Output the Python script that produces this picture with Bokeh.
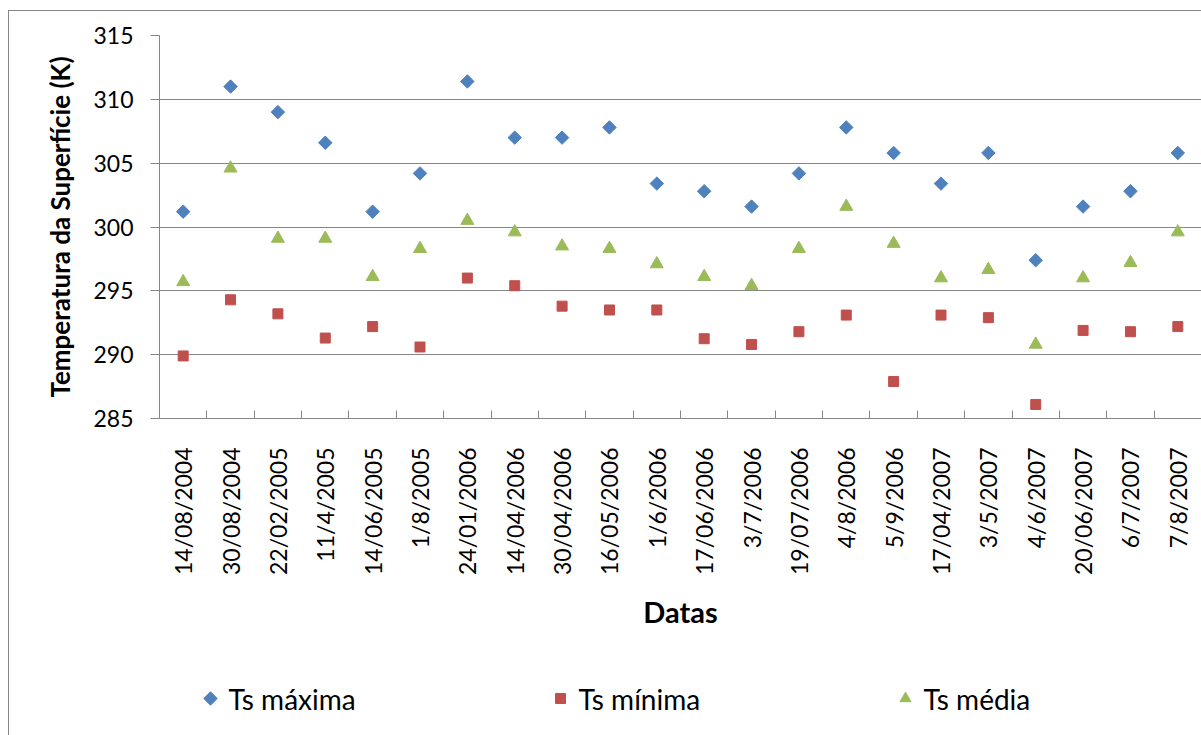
from bokeh.plotting import figure
from bokeh.models import ColumnDataSource, FixedTicker, Range1d
from bokeh.layouts import column
from bokeh.core.properties import value
from bokeh.embed import file_html
from bokeh.resources import INLINE
import numpy as np

datas = ["14/08/2004", "30/08/2004", "22/02/2005", "11/4/2005", "14/06/2005", "1/8/2005",
         "24/01/2006", "14/04/2006", "30/04/2006", "16/05/2006", "1/6/2006", "17/06/2006",
         "3/7/2006", "19/07/2006", "4/8/2006", "5/9/2006", "17/04/2007", "3/5/2007",
         "4/6/2007", "20/06/2007", "6/7/2007", "7/8/2007"]
ts_maxima = [301.2, 311.0, 309.0, 306.6, 301.2, 304.2, 311.4, 307.0, 307.0, 307.8, 303.4,
             302.8, 301.6, 304.2, 307.8, 305.8, 303.4, 305.8, 297.4, 301.6, 302.8, 305.8]
ts_minima = [289.9, 294.3, 293.2, 291.3, 292.2, 290.6, 296.0, 295.4, 293.8, 293.5, 293.5,
             291.25, 290.8, 291.8, 293.1, 287.9, 293.1, 292.9, 286.1, 291.9, 291.8, 292.2]
ts_media = [295.7, 304.6, 299.1, 299.1, 296.1, 298.3, 300.5, 299.6, 298.5, 298.3, 297.1,
            296.1, 295.4, 298.3, 301.6, 298.7, 296.0, 296.65, 290.8, 296.0, 297.2, 299.6]
y_ticks = [285, 290, 295, 300, 305, 310, 315]
series_names = ["Ts máxima", "Ts mínima", "Ts média"]

FONT = "Lato"
GRID = "#868686"
COLORS = ["#4F81BD", "#C0504D", "#9BBB59"]
MARKERS = ["square", "square", "triangle"]
ANGLES = [np.pi / 4, 0, 0]
SIZES = [9.5, 10, 13]
LEG_SIZES = [9.5, 10, 11]

xpos = [i + 0.5 for i in range(len(datas))]
src = ColumnDataSource(dict(x=xpos, mx=ts_maxima, mn=ts_minima, md=ts_media))

p = figure(width=1192, height=637, output_backend="svg", toolbar_location=None,
           x_range=Range1d(0, len(datas)), y_range=Range1d(285, 315),
           min_border_left=150, min_border_right=0, min_border_top=24, min_border_bottom=230)
p.outline_line_color = None
p.background_fill_color = "white"
p.border_fill_color = "white"

# y axis
p.yaxis.ticker = FixedTicker(ticks=y_ticks, minor_ticks=[])
p.yaxis.axis_line_color = GRID
p.yaxis.major_tick_line_color = GRID
p.yaxis.major_tick_in = 0
p.yaxis.major_tick_out = 9
p.yaxis.minor_tick_line_color = None
p.yaxis.major_label_standoff = 17
p.yaxis.major_label_text_font = FONT
p.yaxis.major_label_text_font_size = "23px"
p.yaxis.major_label_text_color = "black"
p.yaxis.axis_label = "Temperatura da Superfície (K)"
p.yaxis.axis_label_text_font = FONT
p.yaxis.axis_label_text_font_style = "bold"
p.yaxis.axis_label_text_font_size = "26px"
p.yaxis.axis_label_text_color = "black"
p.yaxis.axis_label_standoff = 14

# x axis: labels at category centres, tick marks between categories
p.xaxis.ticker = FixedTicker(ticks=xpos, minor_ticks=list(range(len(datas) + 1)))
p.xaxis.major_label_overrides = {x: d for x, d in zip(xpos, datas)}
p.xaxis.major_label_orientation = np.pi / 2
p.xaxis.major_tick_line_color = None
p.xaxis.major_tick_in = 0
p.xaxis.major_tick_out = 0
p.xaxis.minor_tick_line_color = GRID
p.xaxis.minor_tick_in = 8
p.xaxis.minor_tick_out = 0
p.xaxis.axis_line_color = GRID
p.xaxis.major_label_standoff = 29
p.xaxis.major_label_text_font = FONT
p.xaxis.major_label_text_font_size = "23px"
p.xaxis.major_label_text_color = "black"
p.xaxis.axis_label = "Datas"
p.xaxis.axis_label_text_font = FONT
p.xaxis.axis_label_text_font_style = "bold"
p.xaxis.axis_label_text_font_size = "29px"
p.xaxis.axis_label_text_color = "black"
p.xaxis.axis_label_standoff = 16

p.xgrid.grid_line_color = None
p.ygrid.ticker = FixedTicker(ticks=y_ticks)
p.ygrid.grid_line_color = GRID
p.ygrid.grid_line_width = 1

for col, i in [("mx", 0), ("mn", 1), ("md", 2)]:
    p.scatter("x", col, source=src, marker=MARKERS[i], angle=ANGLES[i], size=SIZES[i],
              fill_color=COLORS[i], line_color=COLORS[i])

# legend row: a second, axis-less figure; its frame is aligned with the main frame,
# so its x range is given in page pixels of that frame (159..1201)
LEG_H = 87
leg = figure(width=1192, height=LEG_H, output_backend="svg", toolbar_location=None,
             x_range=Range1d(159, 1201), y_range=Range1d(0, LEG_H),
             x_axis_type=None, y_axis_type=None,
             min_border_left=0, min_border_right=0, min_border_top=0, min_border_bottom=0)
leg.outline_line_color = None
leg.grid.visible = False
leg.background_fill_color = "white"
leg.border_fill_color = "white"
leg_x = [210, 560, 905]
leg_y = 37
for i, name in enumerate(series_names):
    leg.scatter([leg_x[i]], [leg_y], marker=MARKERS[i], angle=ANGLES[i], size=LEG_SIZES[i],
                fill_color=COLORS[i], line_color=COLORS[i])
    leg.text([leg_x[i] + 18], [leg_y], text=[name], text_font=value(FONT),
             text_font_size="28px", text_baseline="middle", text_align="left",
             text_color="black")

layout = column(p, leg, spacing=0)
layout.styles = {"margin-left": "8px", "margin-top": "10px",
                 "border-left": "1px solid #868686", "border-top": "1px solid #868686"}

open("out.html", "w").write(file_html(layout, INLINE))
